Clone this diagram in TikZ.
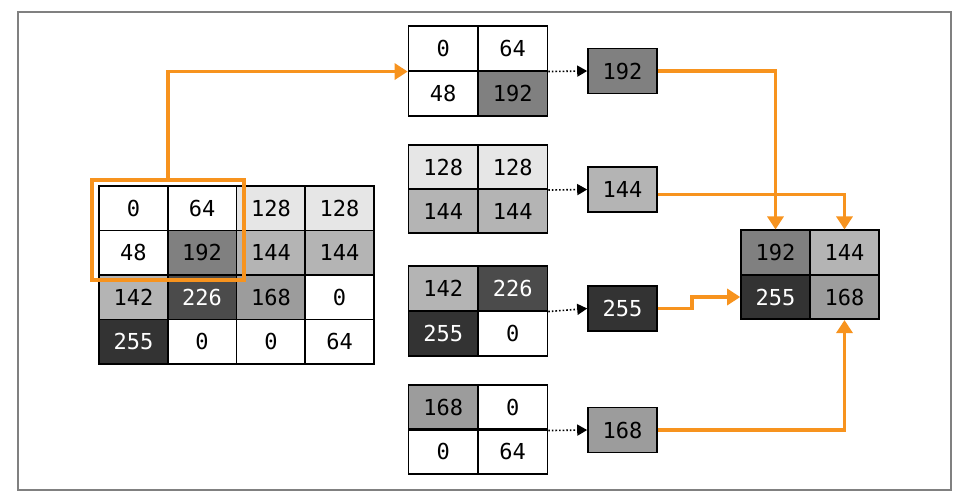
\documentclass[tikz,border=0pt]{standalone}
\usepackage{fontspec}
\setmonofont{DejaVu Sans Mono}
\usetikzlibrary{arrows.meta}
\definecolor{cA}{HTML}{E6E6E6}
\definecolor{cB}{HTML}{B4B4B4}
\definecolor{cC}{HTML}{808080}
\definecolor{cD}{HTML}{4B4B4B}
\definecolor{cE}{HTML}{333333}
\definecolor{cF}{HTML}{9C9C9C}
\definecolor{orng}{HTML}{F7931E}
\definecolor{frm}{HTML}{808080}
\tikzset{
  cell/.style={draw=black, line width=1.6pt, minimum width=68.75pt, minimum height=44.5pt,
    inner sep=0pt, font=\ttfamily\fontsize{22}{22}\selectfont, anchor=center},
  mcell/.style={cell, minimum width=69.5pt},
  dk/.style={text=white},
  orngline/.style={draw=orng, line width=3.4pt},
  orngarrow/.style={orngline, -{Triangle[length=13pt,width=16pt]}},
  dotarrow/.style={draw=black, line width=1.6pt, dotted, -{Triangle[length=10pt,width=11pt]}},
}
\begin{document}
\begin{tikzpicture}[x=1pt,y=-1pt]
\useasboundingbox (0,0) rectangle (964,498);
\draw[frm, line width=1.5pt] (18,12) rectangle (951,490);

% left 4x4 grid
\node[cell]            (a11) at (133.4,208.3) {0};
\node[cell]            (a12) at (202.1,208.3) {64};
\node[cell,fill=cA]    (a13) at (270.9,208.3) {128};
\node[cell,fill=cA]    (a14) at (339.6,208.3) {128};
\node[cell]            (a21) at (133.4,252.8) {48};
\node[cell,fill=cC]    (a22) at (202.1,252.8) {192};
\node[cell,fill=cB]    (a23) at (270.9,252.8) {144};
\node[cell,fill=cB]    (a24) at (339.6,252.8) {144};
\node[cell,fill=cB]    (a31) at (133.4,297.3) {142};
\node[cell,fill=cD,dk] (a32) at (202.1,297.3) {226};
\node[cell,fill=cF]    (a33) at (270.9,297.3) {168};
\node[cell]            (a34) at (339.6,297.3) {0};
\node[cell,fill=cE,dk] (a41) at (133.4,341.8) {255};
\node[cell]            (a42) at (202.1,341.8) {0};
\node[cell]            (a43) at (270.9,341.8) {0};
\node[cell]            (a44) at (339.6,341.8) {64};

% window
\node[orngline, minimum width=152pt, minimum height=100pt, inner sep=0pt] (win) at (168,230) {};

% middle 2x2 grids
\node[mcell]            (m1a) at (443.2,48.5) {0};
\node[mcell]            (m1b) at (512.7,48.5) {64};
\node[mcell]            (m1c) at (443.2,93.5) {48};
\node[mcell,fill=cC]    (m1d) at (512.7,93.5) {192};

\node[mcell,fill=cA]    (m2a) at (443.2,167) {128};
\node[mcell,fill=cA]    (m2b) at (512.7,167) {128};
\node[mcell,fill=cB]    (m2c) at (443.2,211) {144};
\node[mcell,fill=cB]    (m2d) at (512.7,211) {144};

\node[mcell,fill=cB]    (m3a) at (443.2,288.5) {142};
\node[mcell,fill=cD,dk] (m3b) at (512.7,288.5) {226};
\node[mcell,fill=cE,dk] (m3c) at (443.2,333.5) {255};
\node[mcell]            (m3d) at (512.7,333.5) {0};

\node[mcell,fill=cF]    (m4a) at (443.2,407.5) {168};
\node[mcell]            (m4b) at (512.7,407.5) {0};
\node[mcell]            (m4c) at (443.2,451.5) {0};
\node[mcell]            (m4d) at (512.7,451.5) {64};

% pooled single boxes
\node[cell, minimum width=69pt, minimum height=45pt, fill=cC]    (s1) at (622.5,71) {192};
\node[cell, minimum width=69pt, minimum height=45pt, fill=cB]    (s2) at (622.5,189.5) {144};
\node[cell, minimum width=69pt, minimum height=45pt, fill=cE,dk] (s3) at (622.5,308.5) {255};
\node[cell, minimum width=69pt, minimum height=45pt, fill=cF]    (s4) at (622.5,430) {168};

% output grid
\node[cell, minimum width=69pt, fill=cC]    (r11) at (775.5,252.5) {192};
\node[cell, minimum width=69pt, fill=cB]    (r12) at (844.5,252.5) {144};
\node[cell, minimum width=69pt, fill=cE,dk] (r21) at (775.5,297) {255};
\node[cell, minimum width=69pt, fill=cF]    (r22) at (844.5,297) {168};

% dotted arrows
\draw[dotarrow] (m1b.south east) -- (s1.west);
\draw[dotarrow] (m2b.south east) -- (s2.west);
\draw[dotarrow] (m3b.south east) -- (s3.west);
\draw[dotarrow] (m4b.south east) -- (s4.west);

% orange connectors
\draw[orngarrow] (win.north) |- (m1a.south west);
\draw[orngarrow] (s1.east) -| (r11.north);
\draw[orngarrow] ([yshift=-5pt]s2.east) -| (r12.north);
\coordinate (stp) at (692,0);
\draw[orngarrow] (s3.east) -- (s3.east -| stp) -- (stp |- r21.west) -- (r21.west);
\draw[orngarrow] (s4.east) -| (r22.south);
\end{tikzpicture}
\end{document}
